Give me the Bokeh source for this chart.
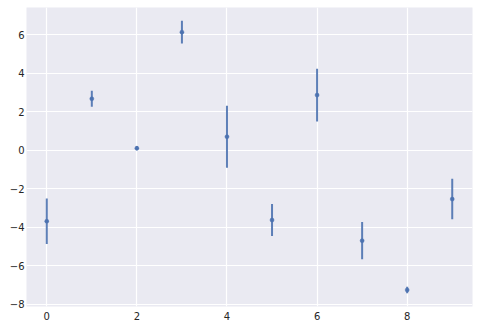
from bokeh.plotting import figure
from bokeh.models import ColumnDataSource, FixedTicker, CustomJSTickFormatter, Range1d
from bokeh.embed import file_html
from bokeh.resources import INLINE

x_vals = [0, 1, 2, 3, 4, 5, 6, 7, 8, 9]
y_vals = [-3.69, 2.67, 0.10, 6.13, 0.70, -3.63, 2.86, -4.70, -7.26, -2.54]
y_err = [1.18, 0.42, 0.11, 0.59, 1.61, 0.83, 1.37, 0.97, 0.17, 1.05]
x_ticks = [0, 2, 4, 6, 8]
y_ticks = [-8, -6, -4, -2, 0, 2, 4, 6]

lower = [y - e for y, e in zip(y_vals, y_err)]
upper = [y + e for y, e in zip(y_vals, y_err)]
src = ColumnDataSource(dict(x=x_vals, y=y_vals, lo=lower, hi=upper))

p = figure(width=479, height=329, output_backend="svg", toolbar_location=None,
           x_range=Range1d(-0.45, 9.45), y_range=Range1d(-8.12, 7.41),
           min_border_left=26, min_border_right=7, min_border_top=7, min_border_bottom=23)
p.background_fill_color = "#EAEAF2"
p.border_fill_color = "white"
p.outline_line_color = None

p.segment(x0="x", y0="lo", x1="x", y1="hi", source=src, line_color="#4C72B0",
          line_width=2, line_alpha=0.9)
p.scatter(x="x", y="y", source=src, size=4, fill_color="#4C72B0", line_color="#4C72B0",
          line_width=0.5)

fmt = CustomJSTickFormatter(code="return tick.toFixed(0).replace('-', '\u2212');")
for ax, ticks in ((p.xaxis[0], x_ticks), (p.yaxis[0], y_ticks)):
    ax.ticker = FixedTicker(ticks=ticks)
    ax.formatter = fmt
    ax.axis_line_color = None
    ax.major_tick_line_color = None
    ax.minor_tick_line_color = None
    ax.major_tick_out = 0
    ax.major_tick_in = 0
    ax.major_label_text_font = "DejaVu Sans"
    ax.major_label_text_font_size = "10px"
    ax.major_label_text_color = "#262626"
p.yaxis[0].major_label_standoff = 2
p.xaxis[0].major_label_standoff = 5

p.xgrid.ticker = FixedTicker(ticks=x_ticks)
p.ygrid.ticker = FixedTicker(ticks=y_ticks)
for g in (p.xgrid, p.ygrid):
    g.grid_line_color = "white"
    g.grid_line_width = 1.2

open("out.html", "w").write(file_html(p, INLINE))
